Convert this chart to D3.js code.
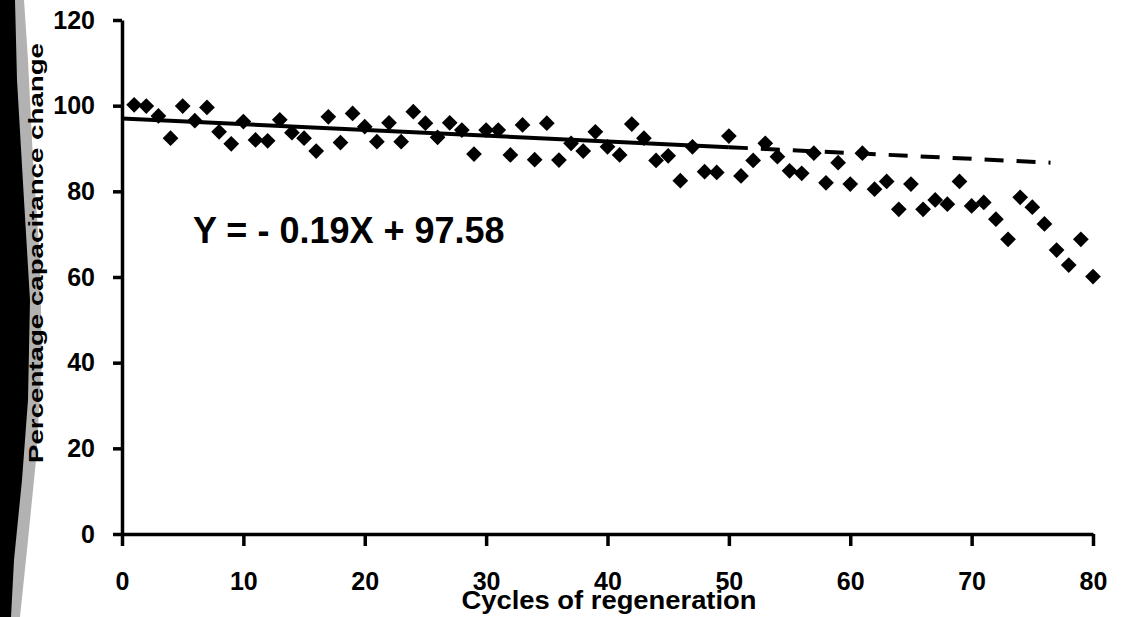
<!DOCTYPE html>
<html>
<head>
<meta charset="utf-8">
<script src="https://cdn.jsdelivr.net/npm/d3@7"></script>
<style>
  body { margin: 0; background: #fff; }
  text { font-family: "Liberation Sans", Arial, sans-serif; font-weight: bold; fill: #000; }
</style>
</head>
<body>
<div id="chart"></div>
<script>
// chart data
const cycles = [1, 2, 3, 4, 5, 6, 7, 8, 9, 10, 11, 12, 13, 14, 15, 16, 17, 18, 19, 20,
    21, 22, 23, 24, 25, 26, 27, 28, 29, 30, 31, 32, 33, 34, 35, 36, 37, 38, 39, 40,
    41, 42, 43, 44, 45, 46, 47, 48, 49, 50, 51, 52, 53, 54, 55, 56, 57, 58, 59, 60,
    61, 62, 63, 64, 65, 66, 67, 68, 69, 70, 71, 72, 73, 74, 75, 76, 77, 78, 79, 80];
const capChange = [100.2, 99.9, 97.6, 92.4, 99.9, 96.5, 99.6, 93.9, 91.1, 96.3,
    92.0, 91.8, 96.7, 93.7, 92.4, 89.4, 97.4, 91.4, 98.2, 95.1,
    91.6, 96.0, 91.6, 98.6, 95.9, 92.6, 96.0, 94.3, 88.7, 94.3,
    94.3, 88.5, 95.5, 87.4, 95.9, 87.3, 91.2, 89.4, 93.9, 90.4,
    88.5, 95.7, 92.4, 87.2, 88.3, 82.5, 90.4, 84.6, 84.4, 92.9,
    83.6, 87.2, 91.2, 88.1, 84.8, 84.2, 88.9, 82.0, 86.7, 81.7,
    88.9, 80.5, 82.3, 75.8, 81.7, 75.8, 78.0, 77.0, 82.3, 76.6,
    77.4, 73.5, 68.8, 78.6, 76.3, 72.4, 66.3, 62.8, 68.8, 60.1];

// fitted trend (solid part) and its extrapolation (dashed part)
const fitX = [0, 50];
const fitY = [97.0, 90.3];
const extX = [50, 76.5];
const extY = [90.3, 86.7];

const xTicks = [0, 10, 20, 30, 40, 50, 60, 70, 80];
const yTicks = [0, 20, 40, 60, 80, 100, 120];
const equation = "Y = - 0.19X + 97.58";
const xTitle = "Cycles of regeneration";
const yTitle = "Percentage capacitance change";

const width = 1121, height = 617;
const tickFont = "'Liberation Sans Narrow', 'Liberation Sans', Arial, sans-serif";

let svg = d3.select("#chart")
    .append("svg")
    .attr("width", width)
    .attr("height", height);

let x = d3.scaleLinear().domain([0, 80]).range([122, 1093]);
let y = d3.scaleLinear().domain([0, 120]).range([534, 20]);

// dark scan shadow down the left edge
let shadow = svg.append("g");
shadow.append("path")
    .attr("d", "M0,0 L24,0 L28,60 L33,160 L40,260 L42,360 L36,460 L28,540 L20,617 L0,617 Z")
    .attr("fill", "#000")
    .attr("opacity", 0.3);
shadow.append("path")
    .attr("d", "M0,0 L15,0 L17,80 L24,200 L30,300 L28,400 L22,480 L14,560 L11,617 L0,617 Z")
    .attr("fill", "#000");

// axes
let xAxis = svg.append("g")
    .attr("transform", "translate(0," + y(0) + ")")
    .call(d3.axisBottom(x).tickValues(xTicks).tickSize(12).tickSizeOuter(0).tickPadding(26));

let yAxis = svg.append("g")
    .attr("transform", "translate(" + x(0) + ",0)")
    .call(d3.axisLeft(y).tickValues(yTicks).tickSize(9).tickSizeOuter(0).tickPadding(18));

[xAxis, yAxis].forEach(function(ax){
    ax.select(".domain").attr("stroke", "#000").attr("stroke-width", 3.5);
    ax.selectAll(".tick line").attr("stroke", "#000").attr("stroke-width", 3.5);
    ax.selectAll(".tick text")
        .style("font-size", "25px")
        .style("font-family", tickFont)
        .style("font-weight", "bold")
        .attr("fill", "#000");
});

// trend line
let line = d3.line()
    .x(function(d){return x(d[0])})
    .y(function(d){return y(d[1])});

svg.append("path")
    .datum(d3.zip(fitX, fitY))
    .attr("d", line)
    .attr("fill", "none")
    .attr("stroke", "#000")
    .attr("stroke-width", 4);

svg.append("path")
    .datum(d3.zip(extX, extY))
    .attr("d", line)
    .attr("fill", "none")
    .attr("stroke", "#000")
    .attr("stroke-width", 4)
    .attr("stroke-dasharray", "19,13");

// diamond markers
let diamond = d3.symbol().type(d3.symbolSquare).size(124);

svg.append("g")
    .selectAll("path")
    .data(d3.zip(cycles, capChange))
    .enter()
    .append("path")
    .attr("d", diamond)
    .attr("transform", function(d){return "translate(" + x(d[0]) + "," + y(d[1]) + ") rotate(45)"})
    .attr("fill", "#000");

// equation
svg.append("text")
    .attr("x", 193)
    .attr("y", 243)
    .style("font-size", "36px")
    .text(equation);

// axis titles
svg.append("text")
    .attr("x", 609)
    .attr("y", 609)
    .attr("text-anchor", "middle")
    .attr("textLength", 295)
    .attr("lengthAdjust", "spacingAndGlyphs")
    .style("font-size", "26px")
    .text(xTitle);

svg.append("text")
    .attr("transform", "translate(43,253) rotate(-90)")
    .attr("text-anchor", "middle")
    .attr("textLength", 420)
    .attr("lengthAdjust", "spacingAndGlyphs")
    .style("font-size", "20px")
    .text(yTitle);
</script>
</body>
</html>
